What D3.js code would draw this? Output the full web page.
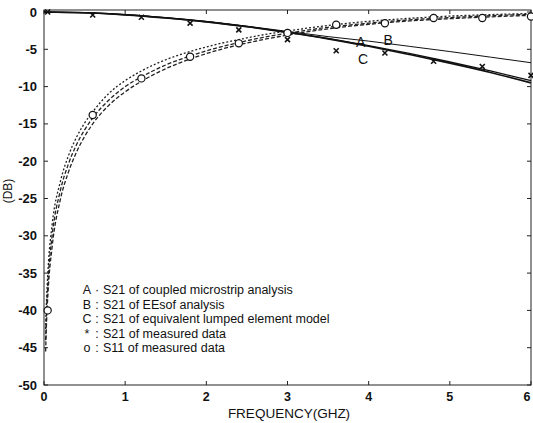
<!DOCTYPE html>
<html>
<head>
<meta charset="utf-8">
<script src="https://cdn.jsdelivr.net/npm/d3@7"></script>
<style>
  body { margin: 0; background: #fff; }
  text { font-family: "Liberation Sans", Arial, sans-serif; fill: #111; }
</style>
</head>
<body>
<div id="chart"></div>
<script>
// simulated curves (S21)
const freqCurve = [0, 0.5, 1, 1.5, 2, 2.5, 3, 3.5, 4, 4.5, 5, 5.5, 6];
const s21A = [0, -0.1, -0.37, -0.78, -1.3, -1.95, -2.7, -3.55, -4.5, -5.55, -6.7, -7.9, -9.2];
const s21B = [0, -0.1, -0.35, -0.75, -1.25, -1.9, -2.6, -3.3, -3.9, -4.6, -5.3, -6.05, -6.8];
const s21C = [0, -0.11, -0.38, -0.8, -1.32, -1.98, -2.75, -3.6, -4.6, -5.7, -6.85, -8.1, -9.5];

// simulated curves (S11)
const freqS11 = [0.02, 0.03, 0.05, 0.1, 0.2, 0.3, 0.4, 0.5, 0.6, 0.8, 1.0, 1.2, 1.5, 1.8, 2.1, 2.4, 2.7, 3.0, 3.5, 4.0, 4.5, 5.0, 5.5, 6.0];
const s11A = [-44, -40.5, -36, -30, -24, -20.4, -17.8, -15.8, -14.2, -11.8, -10, -8.7, -7.1, -5.9, -4.9, -4.1, -3.4, -2.85, -2.05, -1.5, -1.05, -0.75, -0.5, -0.3];
const s11B = [-42.5, -39, -34.5, -28.5, -22.8, -19.3, -16.8, -14.9, -13.4, -10.9, -9.2, -7.9, -6.4, -5.3, -4.4, -3.7, -3.05, -2.55, -1.8, -1.25, -0.85, -0.55, -0.35, -0.2];
const s11C = [-45.5, -42, -37.5, -31.5, -25.2, -21.5, -18.8, -16.7, -15.0, -12.5, -10.7, -9.3, -7.6, -6.3, -5.25, -4.4, -3.7, -3.1, -2.25, -1.65, -1.2, -0.9, -0.65, -0.45];

// measured data
const measFreq = [0.045, 0.6, 1.2, 1.8, 2.4, 3.0, 3.6, 4.2, 4.8, 5.4, 6.0];
const s21Meas = [0, -0.4, -0.7, -1.5, -2.4, -3.7, -5.2, -5.5, -6.6, -7.3, -8.5];
const s11Meas = [-40, -13.8, -8.9, -6.0, -4.2, -2.8, -1.7, -1.5, -0.8, -0.8, -0.6];

const xTicks = [0, 1, 2, 3, 4, 5, 6];
const yTicks = [0, -5, -10, -15, -20, -25, -30, -35, -40, -45, -50];

const legendRows = [
  {key: "A", sep: "\u00b7", text: "S21 of coupled microstrip analysis"},
  {key: "B", sep: ":", text: "S21 of EEsof analysis"},
  {key: "C", sep: ":", text: "S21 of equivalent lumped element model"},
  {key: "*", sep: ":", text: "S21 of measured data"},
  {key: "o", sep: ":", text: "S11 of measured data"}
];

const curveLabels = [
  {t: "A", f: 3.9, db: -4.0},
  {t: "B", f: 4.24, db: -3.8},
  {t: "C", f: 3.93, db: -6.3}
];

const W = 533, H = 423;
const svg = d3.select("#chart").append("svg")
    .attr("width", W)
    .attr("height", H);

const x = d3.scaleLinear().domain([0, 6]).range([44, 531]);
const y = d3.scaleLinear().domain([-50, 0]).range([385, 12]);

// frame
svg.append("rect")
    .attr("x", x(0)).attr("y", 10)
    .attr("width", x(6) - x(0)).attr("height", y(-50) - 10)
    .attr("fill", "none").attr("stroke", "#222").attr("stroke-width", 1);

// ticks (inward, all four sides)
const tickG = svg.append("g").attr("stroke", "#222").attr("stroke-width", 1);
xTicks.forEach(t => {
  tickG.append("line").attr("x1", x(t)).attr("x2", x(t)).attr("y1", y(-50)).attr("y2", y(-50) - 4);
  tickG.append("line").attr("x1", x(t)).attr("x2", x(t)).attr("y1", 10).attr("y2", 14);
});
yTicks.forEach(t => {
  tickG.append("line").attr("x1", x(0)).attr("x2", x(0) + 4).attr("y1", y(t)).attr("y2", y(t));
  tickG.append("line").attr("x1", x(6)).attr("x2", x(6) - 4).attr("y1", y(t)).attr("y2", y(t));
});

svg.append("g").selectAll("text")
    .data(xTicks).enter().append("text")
    .attr("x", d => Math.min(x(d), 527))
    .attr("y", 401)
    .attr("text-anchor", "middle")
    .attr("font-size", 12.5)
    .attr("font-weight", "bold")
    .text(d => d);

svg.append("g").selectAll("text")
    .data(yTicks).enter().append("text")
    .attr("x", 37)
    .attr("y", d => y(d))
    .attr("dy", "0.35em")
    .attr("text-anchor", "end")
    .attr("font-size", 13)
    .attr("font-weight", "bold")
    .text(d => d);

svg.append("text")
    .attr("x", 289).attr("y", 418)
    .attr("text-anchor", "middle")
    .attr("font-size", 13.5)
    .text("FREQUENCY(GHZ)");

svg.append("text")
    .attr("transform", "translate(12,191) rotate(-90)")
    .attr("text-anchor", "middle")
    .attr("font-size", 12)
    .text("(DB)");

const line = d3.line()
    .x(d => x(d[0]))
    .y(d => y(d[1]))
    .curve(d3.curveMonotoneX);

const plot = svg.append("g");

// S11 dashed curves
[s11A, s11B, s11C].forEach((vals, i) => {
  plot.append("path")
      .attr("d", line(freqS11.map((f, j) => [f, vals[j]])))
      .attr("fill", "none")
      .attr("stroke", "#222")
      .attr("stroke-width", 1.3)
      .attr("stroke-dasharray", i === 1 ? "2,2" : "4,2");
});

// S21 curves
[[s21A, 1.4], [s21B, 1.0], [s21C, 1.6]].forEach(([vals, w]) => {
  plot.append("path")
      .attr("d", line(freqCurve.map((f, j) => [f, vals[j]])))
      .attr("fill", "none")
      .attr("stroke", "#111")
      .attr("stroke-width", w);
});

// measured S21 stars
const star = d3.symbol().type(d3.symbolX).size(18);
plot.append("g").selectAll("path")
    .data(measFreq.map((f, i) => [f, s21Meas[i]]))
    .enter().append("path")
    .attr("transform", d => `translate(${x(d[0])},${y(d[1])})`)
    .attr("d", star)
    .attr("fill", "none")
    .attr("stroke", "#111")
    .attr("stroke-width", 1.6);

// measured S11 circles
plot.append("g").selectAll("circle")
    .data(measFreq.map((f, i) => [f, s11Meas[i]]))
    .enter().append("circle")
    .attr("cx", d => x(d[0]))
    .attr("cy", d => y(d[1]))
    .attr("r", 3.6)
    .attr("fill", "#fff")
    .attr("stroke", "#111")
    .attr("stroke-width", 1.2);

// curve labels
svg.append("g").selectAll("text")
    .data(curveLabels).enter().append("text")
    .attr("x", d => x(d.f))
    .attr("y", d => y(d.db))
    .attr("dy", "0.35em")
    .attr("text-anchor", "middle")
    .attr("font-size", 14)
    .text(d => d.t);

// legend
const legend = svg.append("g").attr("font-size", 12.5);
legendRows.forEach((r, i) => {
  const yy = 290 + i * 14.5;
  legend.append("text").attr("x", 87).attr("y", yy).attr("dy", "0.35em")
      .attr("text-anchor", "middle").text(r.key);
  legend.append("text").attr("x", 97).attr("y", yy).attr("dy", "0.35em")
      .attr("text-anchor", "middle").text(r.sep);
  legend.append("text").attr("x", 103).attr("y", yy).attr("dy", "0.35em")
      .text(r.text);
});
</script>
</body>
</html>
